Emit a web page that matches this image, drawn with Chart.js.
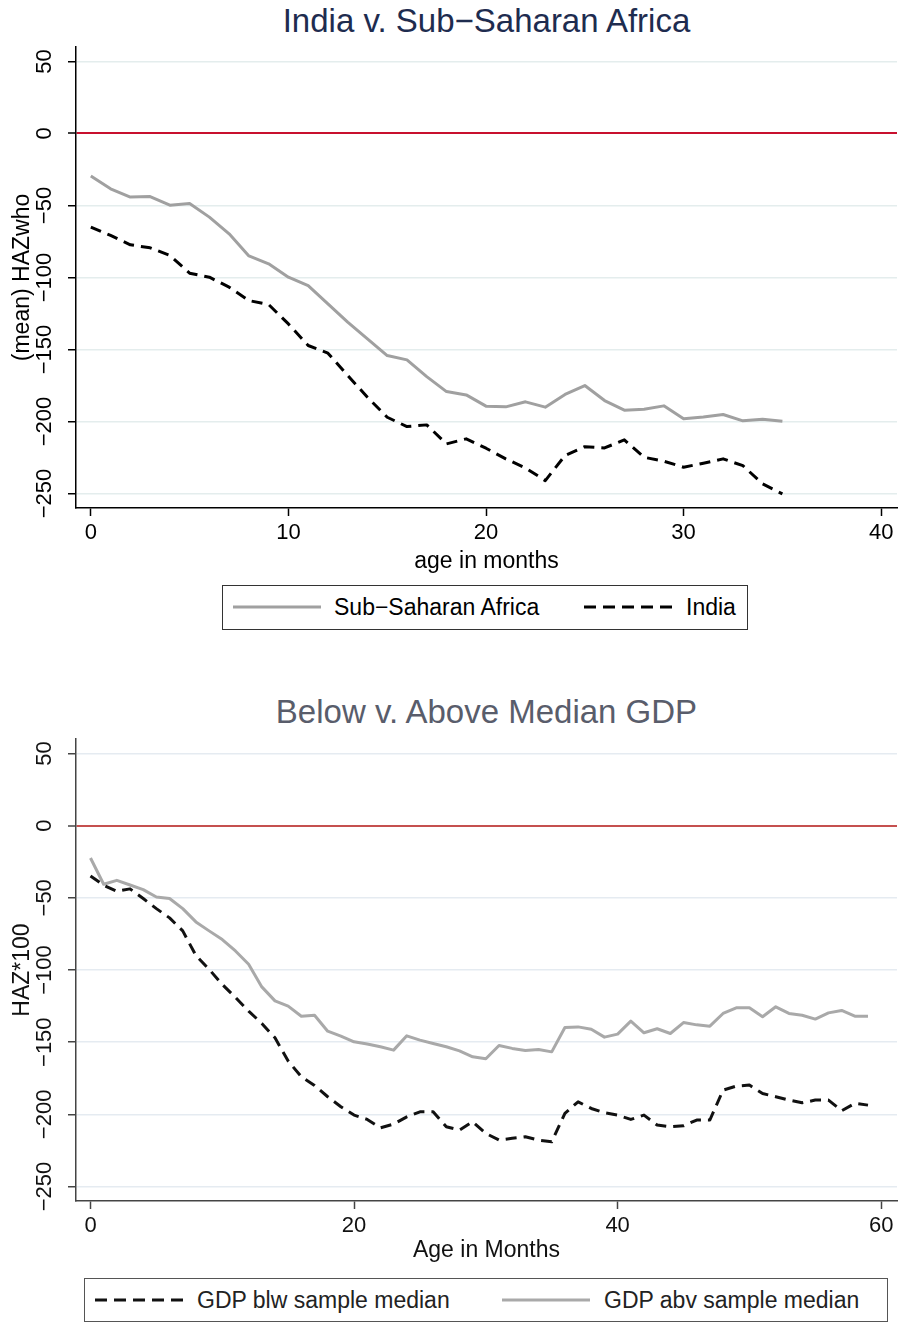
<!DOCTYPE html>
<html>
<head>
<meta charset="utf-8">
<script src="https://cdn.jsdelivr.net/npm/chart.js@4.4.1/dist/chart.umd.min.js"></script>
<style>
  body { margin: 0; background: #fff; font-family: "Liberation Sans", Arial, sans-serif; }
  #page { position: relative; width: 898px; height: 1322px; overflow: hidden; }
  .title { position: absolute; left: 76px; width: 821px; height: 42px; line-height: 42px; text-align: center; font-size: 33px; }
  .cv { position: absolute; left: 0; }
  .legend { position: absolute; box-sizing: border-box; border: 1.5px solid #333; background: #fff; }
  .legend span { position: absolute; top: 0; font-size: 23px; white-space: nowrap; }
  .legend svg { position: absolute; }
</style>
</head>
<body>
<div id="page">
  <div class="title" style="top:0; color:#1e2c4f;">India v. Sub−Saharan Africa</div>
  <canvas id="chartTop" class="cv" width="898" height="580" style="top:0"></canvas>
  <div class="legend" style="left:222px; top:585px; width:526px; height:45px;">
    <svg style="left:10px; top:0" width="88" height="42"><line x1="0" y1="21" x2="88" y2="21" stroke="#a0a0a0" stroke-width="3"/></svg>
    <span style="left:111px; line-height:42px; color:#000">Sub−Saharan Africa</span>
    <svg style="left:361px; top:0" width="88" height="42"><line x1="0" y1="21" x2="88" y2="21" stroke="#000" stroke-width="3" stroke-dasharray="12 7"/></svg>
    <span style="left:463px; line-height:42px; color:#000">India</span>
  </div>

  <div class="title" style="top:691px; color:#595d6b;">Below v. Above Median GDP</div>
  <canvas id="chartBottom" class="cv" width="898" height="580" style="top:690px"></canvas>
  <div class="legend" style="left:84px; top:1278px; width:804px; height:44px; border-color:#555;">
    <svg style="left:10px; top:0" width="88" height="42"><line x1="0" y1="21" x2="88" y2="21" stroke="#111" stroke-width="3" stroke-dasharray="12 7"/></svg>
    <span style="left:112px; line-height:42px; color:#222">GDP blw sample median</span>
    <svg style="left:417px; top:0" width="88" height="42"><line x1="0" y1="21" x2="88" y2="21" stroke="#a9a9a9" stroke-width="3"/></svg>
    <span style="left:519px; line-height:42px; color:#222">GDP abv sample median</span>
  </div>
</div>

<script>
// ---- top panel: India v. Sub-Saharan Africa ----
const ageTop = [0, 1, 2, 3, 4, 5, 6, 7, 8, 9, 10, 11, 12, 13, 14, 15, 16, 17,
                18, 19, 20, 21, 22, 23, 24, 25, 26, 27, 28, 29, 30, 31, 32, 33, 34, 35];
const ssaHaz = [-29.6, -38.4, -44.2, -43.8, -49.8, -48.6, -58.1, -69.7, -85, -90.5, -99.8, -105.6,
                -118.3, -131, -142.6, -154.2, -157.2, -168.8, -179.2, -181.5, -189.3, -189.8, -186.3, -190,
                -181.2, -175, -185.4, -192.1, -191.4, -189.1, -198.1, -196.8, -195.1, -199.5, -198.4, -199.8];
const indiaHaz = [-65, -70.8, -77.3, -79.4, -84.7, -97, -99.8, -106.7, -116, -118.8, -132.2, -147.2,
                  -152.5, -168, -183.1, -197, -203.5, -202.3, -215.5, -212, -218.5, -225.9, -232.2, -241,
                  -223.6, -217.4, -218.3, -212.7, -224.8, -227.5, -231.7, -228.9, -225.9, -230.6, -243.3, -250.2];
const xTicksTop = [0, 10, 20, 30, 40];

// ---- bottom panel: Below v. Above Median GDP ----
const ageBottom = [0, 1, 2, 3, 4, 5, 6, 7, 8, 9, 10, 11, 12, 13, 14, 15, 16, 17, 18, 19,
                   20, 21, 22, 23, 24, 25, 26, 27, 28, 29, 30, 31, 32, 33, 34, 35, 36, 37, 38, 39,
                   40, 41, 42, 43, 44, 45, 46, 47, 48, 49, 50, 51, 52, 53, 54, 55, 56, 57, 58, 59];
const gdpBelow = [-34.9, -41.3, -45.5, -43.8, -50.5, -57.5, -63.9, -72.9, -90, -99.5,
                  -110, -119, -128.5, -137, -147, -163, -174, -180, -187.8, -194.7,
                  -200.5, -203.5, -209.3, -206.7, -201.7, -198.2, -198.2, -208.6, -210.9, -205.1,
                  -213.2, -217.8, -216.6, -215.5, -217.8, -219, -199.3, -191.3, -195.9, -198.9,
                  -200.5, -203.5, -200.5, -207.4, -208.6, -207.9, -203.9, -203.9, -183.2, -180.4,
                  -179.7, -185.5, -187.8, -190.1, -192, -190.1, -190.1, -197.5, -192.4, -193.6];
const gdpAbove = [-22.4, -40.6, -37.9, -41.1, -44.3, -49.4, -50.5, -57.5, -66.7, -72.9,
                  -78.9, -86.8, -96, -111.7, -121.4, -125, -132, -131.3, -142.4, -145.8,
                  -149.7, -151.3, -153.2, -155.5, -145.6, -148.6, -150.9, -153.2, -156, -160.1,
                  -161.5, -152.3, -154.3, -155.7, -155, -156.7, -139.8, -139.4, -141, -146.5,
                  -144.4, -135.4, -143.5, -140.7, -144, -136.4, -138, -138.9, -130.1, -126.2,
                  -126.2, -132.4, -125.5, -130.1, -131.3, -134, -129.7, -128, -132, -132];
const xTicksBottom = [0, 20, 40, 60];

const yTicks = [-250, -200, -150, -100, -50, 0, 50];

function minusSign(v) {
    return String(v).replace('-', '\u2212');
}

function toPoints(xs, ys) {
    return xs.map((x, i) => ({ x: x, y: ys[i] }));
}

// rotated y tick labels, Stata style
const rotatedYLabels = {
    id: 'rotatedYLabels',
    afterDraw(chart, args, opts) {
        const s = chart.scales.y;
        const ctx = chart.ctx;
        ctx.save();
        ctx.font = opts.font;
        ctx.fillStyle = opts.color;
        ctx.textAlign = 'center';
        ctx.textBaseline = 'middle';
        s.ticks.forEach(t => {
            const y = s.getPixelForValue(t.value);
            ctx.save();
            ctx.translate(opts.x, y);
            ctx.rotate(-Math.PI / 2);
            ctx.fillText(minusSign(t.value), 0, 0);
            ctx.restore();
        });
        ctx.restore();
    }
};

function makeChart(id, cfg) {
    return new Chart(document.getElementById(id), {
        type: 'line',
        data: { datasets: cfg.datasets },
        options: {
            responsive: false,
            animation: false,
            devicePixelRatio: 1,
            layout: { padding: { top: cfg.padTop, right: 1, left: 0, bottom: 0 } },
            plugins: {
                legend: { display: false },
                tooltip: { enabled: false },
                rotatedYLabels: { x: 45, font: '22px "Liberation Sans", Arial, sans-serif', color: cfg.tickColor }
            },
            elements: { point: { radius: 0 }, line: { tension: 0, borderJoinStyle: 'round' } },
            scales: {
                x: {
                    type: 'linear',
                    min: cfg.xMin,
                    max: cfg.xMax,
                    afterFit: s => { s.height = cfg.xAxisHeight; },
                    afterBuildTicks: s => { s.ticks = cfg.xTicks.map(v => ({ value: v })); },
                    grid: { drawOnChartArea: false, drawTicks: true, tickLength: 8, tickColor: cfg.axisColor, tickWidth: 1.5 },
                    border: { display: true, color: cfg.axisColor, width: 1.5 },
                    ticks: {
                        color: cfg.tickColor,
                        padding: 4,
                        maxRotation: 0,
                        autoSkip: false,
                        font: { family: '"Liberation Sans", Arial, sans-serif', size: 22 }
                    },
                    title: {
                        display: true,
                        text: cfg.xTitle,
                        color: cfg.tickColor,
                        padding: { top: 0, bottom: cfg.xTitlePad },
                        font: { family: '"Liberation Sans", Arial, sans-serif', size: 23 }
                    }
                },
                y: {
                    type: 'linear',
                    min: -260,
                    max: 60,
                    afterFit: s => { s.width = 76; },
                    afterBuildTicks: s => { s.ticks = yTicks.map(v => ({ value: v })); },
                    grid: {
                        color: c => (c.tick && c.tick.value === 0) ? cfg.zeroColor : cfg.gridColor,
                        lineWidth: c => (c.tick && c.tick.value === 0) ? 2 : 1.5,
                        drawTicks: true,
                        tickLength: 8,
                        tickColor: cfg.axisColor,
                        tickWidth: 1.5
                    },
                    border: { display: true, color: cfg.axisColor, width: 1.5 },
                    ticks: { display: false },
                    title: {
                        display: true,
                        text: cfg.yTitle,
                        color: cfg.tickColor,
                        padding: { top: 9, bottom: 0 },
                        font: { family: '"Liberation Sans", Arial, sans-serif', size: 23 }
                    }
                }
            }
        },
        plugins: [rotatedYLabels]
    });
}

makeChart('chartTop', {
    padTop: 47,
    xMin: -0.75,
    xMax: 40.8,
    xTicks: xTicksTop,
    xAxisHeight: 72,
    xTitle: 'age in months',
    xTitlePad: 5,
    yTitle: '(mean) HAZwho',
    axisColor: '#000',
    tickColor: '#000',
    gridColor: '#e4eded',
    zeroColor: '#c8102e',
    datasets: [
        { label: 'Sub\u2212Saharan Africa', data: toPoints(ageTop, ssaHaz), borderColor: '#a0a0a0', borderWidth: 3, fill: false },
        { label: 'India', data: toPoints(ageTop, indiaHaz), borderColor: '#000', borderWidth: 3, borderDash: [11, 7], fill: false }
    ]
});

makeChart('chartBottom', {
    padTop: 49,
    xMin: -1.1,
    xMax: 61.2,
    xTicks: xTicksBottom,
    xAxisHeight: 69,
    xTitle: 'Age in Months',
    xTitlePad: 6,
    yTitle: 'HAZ*100',
    axisColor: '#444',
    tickColor: '#111',
    gridColor: '#e5ebf1',
    zeroColor: '#c5504f',
    datasets: [
        { label: 'GDP blw sample median', data: toPoints(ageBottom, gdpBelow), borderColor: '#111', borderWidth: 3, borderDash: [11, 7], fill: false },
        { label: 'GDP abv sample median', data: toPoints(ageBottom, gdpAbove), borderColor: '#a9a9a9', borderWidth: 3, fill: false }
    ]
});
</script>
</body>
</html>
